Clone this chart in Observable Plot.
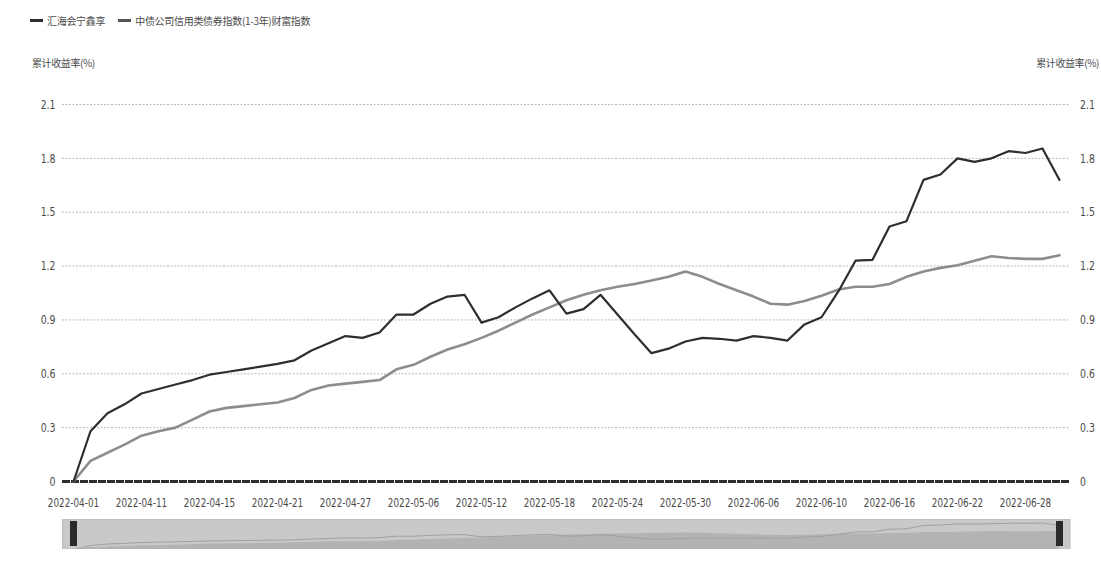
<!DOCTYPE html>
<html>
<head>
<meta charset="utf-8">
<script src="https://cdn.jsdelivr.net/npm/d3@7"></script>
<script src="https://cdn.jsdelivr.net/npm/@observablehq/plot@0.6"></script>
<style>
  html, body { margin: 0; padding: 0; background: #fff; }
  #wrap { position: relative; width: 1101px; height: 567px; overflow: hidden; }
  .cjk { font-family: "Noto Sans CJK SC", sans-serif; color: #4a4a4a; position: absolute; white-space: nowrap; }
  .legend { top: 13px; left: 30px; font-size: 10px; display: flex; align-items: center; letter-spacing: -0.3px; }
  .legend .sw { display: inline-block; width: 13px; height: 3px; margin-right: 4px; }
  .legend .item { display: flex; align-items: center; margin-right: 13px; }
  .ytitle { top: 55px; font-size: 10px; letter-spacing: -0.4px; }
  #main { position: absolute; left: 0; top: 0; }
  #slider { position: absolute; left: 0; top: 519px; }
</style>
</head>
<body>
<div id="wrap">
  <div class="cjk legend">
    <span class="item"><span class="sw" style="background:#2e2e2e"></span>汇海会宁鑫享</span>
    <span class="item"><span class="sw" style="background:#555"></span>中债公司信用类债券指数(1-3年)财富指数</span>
  </div>
  <div class="cjk ytitle" style="left:32px">累计收益率(%)</div>
  <div class="cjk ytitle" style="right:2px">累计收益率(%)</div>
  <div id="main"></div>
  <div id="slider"></div>
</div>
<script>
const dates = [
  "2022-04-01","2022-04-06","2022-04-07","2022-04-08","2022-04-11","2022-04-12","2022-04-13","2022-04-14","2022-04-15",
  "2022-04-18","2022-04-19","2022-04-20","2022-04-21","2022-04-22","2022-04-25","2022-04-26","2022-04-27","2022-04-28","2022-04-29",
  "2022-05-05","2022-05-06","2022-05-09","2022-05-10","2022-05-11","2022-05-12","2022-05-13","2022-05-16","2022-05-17","2022-05-18",
  "2022-05-19","2022-05-20","2022-05-23","2022-05-24","2022-05-25","2022-05-26","2022-05-27","2022-05-30","2022-05-31",
  "2022-06-01","2022-06-02","2022-06-06","2022-06-07","2022-06-08","2022-06-09","2022-06-10","2022-06-13","2022-06-14",
  "2022-06-15","2022-06-16","2022-06-17","2022-06-20","2022-06-21","2022-06-22","2022-06-23","2022-06-24","2022-06-27",
  "2022-06-28","2022-06-29","2022-06-30"
];
const fundName = "汇海会宁鑫享";
const indexName = "中债公司信用类债券指数(1-3年)财富指数";
const fundValues = [
  0, 0.28, 0.38, 0.43, 0.49, 0.515, 0.54, 0.565, 0.595,
  0.61, 0.625, 0.64, 0.655, 0.675, 0.73, 0.77, 0.81, 0.80, 0.83,
  0.93, 0.93, 0.99, 1.03, 1.04, 0.885, 0.915, 0.97, 1.02, 1.065,
  0.935, 0.96, 1.04, 0.93, 0.82, 0.715, 0.74, 0.78, 0.80,
  0.795, 0.785, 0.81, 0.80, 0.785, 0.875, 0.915, 1.06, 1.23,
  1.235, 1.42, 1.45, 1.68, 1.71, 1.80, 1.78, 1.80, 1.84,
  1.83, 1.855, 1.68
];
const indexValues = [
  0, 0.115, 0.16, 0.205, 0.255, 0.28, 0.30, 0.345, 0.39,
  0.41, 0.42, 0.43, 0.44, 0.465, 0.51, 0.535, 0.545, 0.555, 0.565,
  0.625, 0.65, 0.695, 0.735, 0.765, 0.80, 0.84, 0.885, 0.93, 0.97,
  1.01, 1.04, 1.065, 1.085, 1.10, 1.12, 1.14, 1.17, 1.14,
  1.10, 1.065, 1.03, 0.99, 0.985, 1.005, 1.035, 1.07, 1.085,
  1.085, 1.10, 1.14, 1.17, 1.19, 1.205, 1.23, 1.255, 1.245,
  1.24, 1.24, 1.26
];
const xTickLabels = ["2022-04-01","2022-04-11","2022-04-15","2022-04-21","2022-04-27","2022-05-06","2022-05-12",
  "2022-05-18","2022-05-24","2022-05-30","2022-06-06","2022-06-10","2022-06-16","2022-06-22","2022-06-28"];
const yTicks = [0, 0.3, 0.6, 0.9, 1.2, 1.5, 1.8, 2.1];

const rows = dates.map((d, i) => ({date: d, fund: fundValues[i], index: indexValues[i]}));
const fmt = d => String(+d.toFixed(1));
const font = "'DejaVu Sans', sans-serif";

const main = Plot.plot({
  width: 1101, height: 520,
  marginTop: 104, marginBottom: 39, marginLeft: 62, marginRight: 31.5,
  style: {fontFamily: font, fontSize: "12px", color: "#4a4a4a", background: "transparent"},
  x: {type: "point", domain: dates, padding: 0},
  y: {domain: [0, 2.1]},
  marks: [
    Plot.gridY(yTicks.filter(d => d > 0), {stroke: "#b8b8b8", strokeOpacity: 1, strokeDasharray: "2,1.5"}),
    Plot.ruleY([0], {stroke: "#2e2e2e", strokeWidth: 3, strokeDasharray: "8,1"}),
    Plot.axisX({ticks: xTickLabels, tickSize: 0, tickPadding: 16, fontSize: 13, label: null, className: "xt"}),
    Plot.axisY({anchor: "left", ticks: yTicks, tickSize: 0, tickPadding: 7, tickFormat: fmt, label: null, fontSize: 13, className: "yt"}),
    Plot.axisY({anchor: "right", ticks: yTicks, tickSize: 0, tickPadding: 10, tickFormat: fmt, label: null, fontSize: 13, className: "yt"}),
    Plot.line(rows, {x: "date", y: "index", stroke: "#8d8d8d", strokeWidth: 2.6}),
    Plot.line(rows, {x: "date", y: "fund", stroke: "#2e2e2e", strokeWidth: 2.2})
  ]
});
document.getElementById("main").appendChild(main);
// narrow, condensed tick labels like the reference (horizontal squeeze)
function squeeze(sel, k) {
  main.querySelectorAll(sel).forEach(t => {
    const tr = t.getAttribute("transform") || "";
    t.setAttribute("transform", (tr + " scale(" + k + ",1)").trim());
  });
}
squeeze(".xt text", 0.68);
squeeze(".yt text", 0.72);

const slider = Plot.plot({
  width: 1101, height: 30,
  marginTop: 0, marginBottom: 0, marginLeft: 62, marginRight: 31.5,
  style: {background: "transparent"},
  x: {type: "point", domain: dates, padding: 0, axis: null},
  y: {domain: [0, 2.1], axis: null},
  marks: [
    Plot.frame({fill: "#c9c9c9", stroke: "#bdbdbd"}),
    Plot.areaY(rows, {x: "date", y: "index", fill: "#b3b3b3"}),
    Plot.line(rows, {x: "date", y: "fund", stroke: "#a0a0a0", strokeWidth: 1}),
    Plot.tickX([dates[0], dates[dates.length - 1]], {x: d => d, stroke: "#2a2a2a", strokeWidth: 7, insetTop: 2, insetBottom: 3})
  ]
});
document.getElementById("slider").appendChild(slider);
</script>
</body>
</html>
